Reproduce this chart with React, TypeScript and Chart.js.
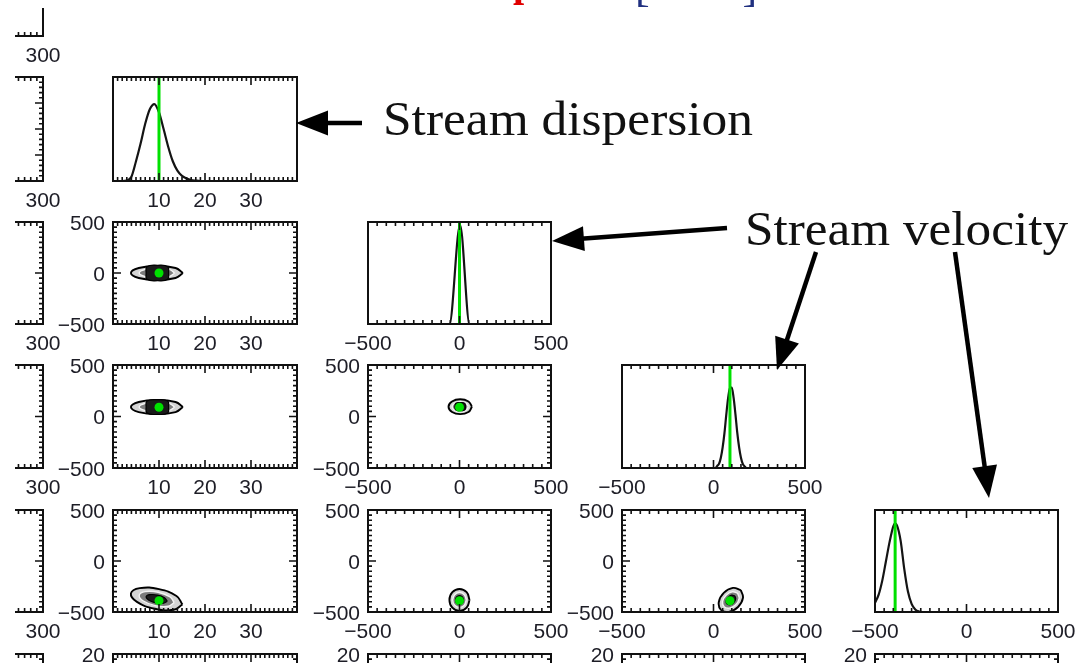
import React, { useEffect, useRef } from "react";
import { Chart, registerables } from "chart.js";

Chart.register(...registerables);

// ---------------- tick labels ----------------
const param0Ticks = [100, 200, 300];
const dispersionTicks = [10, 20, 30];
const velocityTicks = [-500, 0, 500];
const param5Ticks = [0, 10, 20];

// ---------------- true values (green markers) ----------------
const trueDispersion = 10;
const trueV1 = 0;
const trueV2 = 90;
const trueV3 = -390;

// ---------------- 1-D marginal distributions ----------------
const dispersionX = [0, 1, 2, 3, 4, 5, 6, 7, 8, 9, 10, 11, 12, 13, 14, 15, 16, 17, 18, 19, 20, 40];
const dispersionY = [0, 0, 0, 0.005, 0.04, 0.19, 0.36, 0.55, 0.69, 0.74, 0.66, 0.5, 0.33, 0.19, 0.1, 0.05, 0.025, 0.01, 0.004, 0, 0, 0];

const v1X = [-500, -55, 3, 55, 500];
const v1Y = [0, 0, 0.97, 0, 0];

const v2X = [-500, 10, 20, 30, 40, 50, 60, 70, 80, 90, 100, 110, 120, 130, 140, 150, 160, 170, 180, 500];
const v2Y = [0, 0, 0.02, 0.04, 0.1, 0.2, 0.34, 0.52, 0.68, 0.78, 0.78, 0.68, 0.52, 0.34, 0.2, 0.1, 0.04, 0.015, 0, 0];

const v3X = [-500, -480, -460, -440, -420, -400, -390, -380, -360, -340, -320, -300, -280, -260, -240, 500];
const v3Y = [0.09, 0.17, 0.31, 0.5, 0.69, 0.84, 0.87, 0.85, 0.7, 0.42, 0.2, 0.08, 0.025, 0.005, 0, 0];

// ---------------- 2-D contours (outer, middle, core) ----------------
type P = [number, number];
const dispV1Outer: P[] = [[15.2, 0], [13.6, 49], [9.6, 69], [5.6, 49], [3.9, 0], [5.6, -49], [9.6, -69], [13.6, -49]];
const dispV1Mid: P[] = [[13.4, 0], [12.3, 33], [9.6, 47], [6.9, 33], [5.7, 0], [6.9, -33], [9.6, -47], [12.3, -33]];
const dispV1Core: P[] = [[12.1, 0], [11.9, 62], [9.7, 76], [7.4, 62], [7.2, 0], [7.4, -62], [9.7, -76], [11.9, -62]];

const dispV2Outer: P[] = [[15.2, 92], [13.6, 141], [9.6, 161], [5.6, 141], [3.9, 92], [5.6, 43], [9.6, 23], [13.6, 43]];
const dispV2Mid: P[] = [[13.4, 92], [12.3, 125], [9.6, 139], [6.9, 125], [5.7, 92], [6.9, 59], [9.6, 45], [12.3, 59]];
const dispV2Core: P[] = [[12.1, 92], [11.9, 150], [9.7, 164], [7.4, 150], [7.2, 92], [7.4, 34], [9.7, 20], [11.9, 34]];

const dispV3Outer: P[] = [[15.1, -426], [13.8, -343], [10.0, -276], [5.8, -266], [3.9, -318], [5.2, -401], [9.1, -468], [13.2, -478]];
const dispV3Mid: P[] = [[13.3, -408], [12.4, -352], [9.8, -306], [7.0, -300], [5.7, -336], [6.6, -392], [9.2, -438], [12.0, -444]];
const dispV3Core: P[] = [[11.8, -394], [11.2, -360], [9.7, -334], [8.0, -330], [7.2, -350], [7.8, -384], [9.3, -410], [11.0, -414]];

const v1V2Outer: P[] = [[68, 95], [49, 146], [4, 167], [-41, 146], [-60, 95], [-41, 44], [4, 23], [49, 44]];
const v1V2Mid: P[] = [[48, 95], [35, 130], [4, 144], [-27, 130], [-40, 95], [-27, 60], [4, 46], [35, 60]];
const v1V2Core: P[] = [[33, 95], [28, 128], [4, 134], [-20, 128], [-25, 95], [-20, 62], [4, 56], [28, 62]];

const v1V3Outer: P[] = [[55, -382], [39, -306], [0, -274], [-39, -306], [-55, -382], [-39, -458], [0, -490], [39, -458]];
const v1V3Mid: P[] = [[37, -382], [26, -330], [0, -309], [-26, -330], [-37, -382], [-26, -434], [0, -455], [26, -434]];
const v1V3Core: P[] = [[22, -382], [16, -352], [0, -339], [-16, -352], [-22, -382], [-16, -412], [0, -425], [16, -412]];

const v2V3Outer: P[] = [[149, -285], [106, -264], [56, -313], [29, -402], [41, -479], [84, -500], [134, -451], [161, -362]];
const v2V3Mid: P[] = [[132, -316], [103, -302], [69, -335], [50, -396], [58, -448], [87, -462], [121, -429], [140, -368]];
const v2V3Core: P[] = [[117, -343], [99, -335], [80, -355], [69, -390], [73, -421], [91, -429], [110, -409], [121, -374]];

// ---------------- layout ----------------
type AxisSpec = { min: number; max: number; minor: number; major: number[]; labels: number[] };
const AX_P0: AxisSpec = { min: 0, max: 300, minor: 10, major: [100, 200], labels: param0Ticks };
const AX_DISP: AxisSpec = { min: 0, max: 40, minor: 1, major: [10, 20, 30], labels: dispersionTicks };
const AX_DISP_Y: AxisSpec = { min: 0, max: 40, minor: 2, major: [10, 20, 30], labels: dispersionTicks };
const AX_VEL: AxisSpec = { min: -500, max: 500, minor: 50, major: [0], labels: velocityTicks };
const AX_P5: AxisSpec = { min: 0, max: 20, minor: 1, major: [10], labels: param5Ticks };
const AX_HIST: AxisSpec = { min: 0, max: 1, minor: 1, major: [], labels: [] };

const colAxes = [AX_P0, AX_DISP, AX_VEL, AX_VEL, AX_VEL];
const rowAxes = [AX_HIST, AX_DISP_Y, AX_VEL, AX_VEL, AX_VEL, AX_P5];
const COLS: [number, number][] = [[-141, 43], [113, 297], [368, 551], [622, 805], [875, 1058]];
const ROWS: [number, number][] = [[-68, 36], [77, 181], [222, 324], [365, 468], [510, 612], [654, 757]];
const M = 70;
const GREEN = "#00e000";
const truths: (number | null)[] = [null, trueDispersion, trueV1, trueV2, trueV3];

const marginals: Record<number, [number[], number[]]> = {
  1: [dispersionX, dispersionY],
  2: [v1X, v1Y],
  3: [v2X, v2Y],
  4: [v3X, v3Y],
};
const contours: Record<string, P[][]> = {
  "21": [dispV1Outer, dispV1Mid, dispV1Core],
  "31": [dispV2Outer, dispV2Mid, dispV2Core],
  "41": [dispV3Outer, dispV3Mid, dispV3Core],
  "32": [v1V2Outer, v1V2Mid, v1V2Core],
  "42": [v1V3Outer, v1V3Mid, v1V3Core],
  "43": [v2V3Outer, v2V3Mid, v2V3Core],
};

const levelStyles = [
  { bg: "#d4d4d4", bc: "#000000", bw: 1.9 },
  { bg: "#7c7c7c", bc: "#f4f4f4", bw: 1.4 },
  { bg: "#1a1a1a", bc: "#000000", bw: 1.2 },
];

function loop(pts: P[]) {
  const a = pts.map(([x, y]) => ({ x, y }));
  a.push(a[0]);
  return a;
}

interface PanelSpec {
  key: string;
  hist: boolean;
  xa: AxisSpec;
  ya: AxisSpec;
  l: number;
  t: number;
  r: number;
  b: number;
  datasets: any[];
  clipL: number;
  clipT: number;
}

function buildPanels(): PanelSpec[] {
  const out: PanelSpec[] = [];
  for (let r = 0; r < ROWS.length; r++) {
    for (let c = 0; c <= Math.min(r, 4); c++) {
      const hist = r === c;
      const datasets: any[] = [];
      if (hist) {
        const m = marginals[c];
        if (m) {
          datasets.push({
            data: m[0].map((x, i) => ({ x, y: m[1][i] })),
            borderColor: "#141414",
            borderWidth: 2.2,
            pointRadius: 0,
            fill: false,
            cubicInterpolationMode: "monotone",
            order: 2,
          });
        }
        const t = truths[c];
        if (t !== null && t !== undefined) {
          datasets.push({
            data: [{ x: t, y: 0 }, { x: t, y: 1 }],
            borderColor: GREEN,
            borderWidth: 3,
            pointRadius: 0,
            fill: false,
            order: 1,
          });
        }
      } else {
        const lv = contours[`${r}${c}`];
        if (lv) {
          lv.forEach((pts, i) => {
            datasets.push({
              data: loop(pts),
              fill: "shape",
              backgroundColor: levelStyles[i].bg,
              borderColor: levelStyles[i].bc,
              borderWidth: levelStyles[i].bw,
              tension: 0.45,
              pointRadius: 0,
              order: 10 - i,
            });
          });
        }
        const tx = truths[c];
        const ty = r < truths.length ? truths[r] : null;
        if (tx !== null && tx !== undefined && ty !== null && ty !== undefined) {
          datasets.push({
            data: [{ x: tx, y: ty }],
            showLine: false,
            pointRadius: 4.5,
            pointBackgroundColor: GREEN,
            pointBorderWidth: 0,
            order: 0,
          });
        }
      }
      out.push({
        key: `${r}-${c}`,
        hist,
        xa: colAxes[c],
        ya: hist ? AX_HIST : rowAxes[r],
        l: COLS[c][0],
        r: COLS[c][1],
        t: ROWS[r][0],
        b: ROWS[r][1],
        datasets,
        clipL: c === 0 ? 15 : 0,
        clipT: r === 0 ? 8 : 0,
      });
    }
  }
  return out;
}

function fmt(v: number) {
  return v < 0 ? "\u2212" + Math.abs(v) : String(v);
}

function framePlugin(p: PanelSpec) {
  return {
    id: "frame",
    afterDatasetsDraw(chart: any) {
      const { ctx, chartArea: a } = chart;
      const xs = chart.scales.x;
      const ys = chart.scales.y;
      ctx.save();
      ctx.strokeStyle = "#111111";
      ctx.lineWidth = 1.6;
      ctx.beginPath();
      const isMajor = (ax: AxisSpec, v: number) => ax.major.some((m) => Math.abs(m - v) < 1e-6);
      const nx = Math.round((p.xa.max - p.xa.min) / p.xa.minor);
      for (let i = 1; i < nx; i++) {
        const v = p.xa.min + i * p.xa.minor;
        const len = isMajor(p.xa, v) ? 8 : 4;
        const px = xs.getPixelForValue(v);
        ctx.moveTo(px, a.bottom);
        ctx.lineTo(px, a.bottom - len);
        ctx.moveTo(px, a.top);
        ctx.lineTo(px, a.top + len);
      }
      if (!p.hist) {
        const ny = Math.round((p.ya.max - p.ya.min) / p.ya.minor);
        for (let i = 1; i < ny; i++) {
          const v = p.ya.min + i * p.ya.minor;
          const len = isMajor(p.ya, v) ? 8 : 4;
          const py = ys.getPixelForValue(v);
          ctx.moveTo(a.left, py);
          ctx.lineTo(a.left + len, py);
          ctx.moveTo(a.right, py);
          ctx.lineTo(a.right - len, py);
        }
      }
      ctx.stroke();
      ctx.lineWidth = 2;
      ctx.strokeStyle = "#111111";
      ctx.strokeRect(a.left, a.top, a.right - a.left, a.bottom - a.top);

      ctx.fillStyle = "#1d1d26";
      ctx.font = '21px "Liberation Sans", Arial, sans-serif';
      ctx.textBaseline = "alphabetic";
      ctx.textAlign = "center";
      for (const v of p.xa.labels) {
        ctx.fillText(fmt(v), xs.getPixelForValue(v), a.bottom + 26);
      }
      if (!p.hist) {
        ctx.textAlign = "right";
        for (const v of p.ya.labels) {
          ctx.fillText(fmt(v), a.left - 8, ys.getPixelForValue(v) + 7.5);
        }
      }
      ctx.restore();
    },
  };
}

function Panel({ spec }: { spec: PanelSpec }) {
  const ref = useRef<HTMLCanvasElement>(null);
  const w = spec.r - spec.l + 2 * M;
  const h = spec.b - spec.t + 2 * M;
  useEffect(() => {
    if (!ref.current) return;
    const chart = new Chart(ref.current, {
      type: "line",
      data: { datasets: spec.datasets },
      options: {
        animation: false,
        responsive: false,
        maintainAspectRatio: false,
        events: [],
        devicePixelRatio: 1,
        layout: { padding: { left: M, right: M, top: M, bottom: M } },
        scales: {
          x: { type: "linear", min: spec.xa.min, max: spec.xa.max, display: false },
          y: { type: "linear", min: spec.ya.min, max: spec.ya.max, display: false },
        },
        plugins: { legend: { display: false }, tooltip: { enabled: false } },
      } as any,
      plugins: [framePlugin(spec) as any],
    });
    return () => chart.destroy();
  }, [spec]);
  return (
    <div
      style={{
        position: "absolute",
        left: spec.clipL,
        top: spec.clipT,
        width: 1088 - spec.clipL,
        height: 663 - spec.clipT,
        overflow: "hidden",
        pointerEvents: "none",
      }}
    >
      <canvas
        ref={ref}
        width={w}
        height={h}
        style={{ position: "absolute", left: spec.l - M - spec.clipL, top: spec.t - M - spec.clipT, width: w, height: h }}
      />
    </div>
  );
}

function Arrow({ x1, y1, x2, y2 }: { x1: number; y1: number; x2: number; y2: number }) {
  const dx = x2 - x1;
  const dy = y2 - y1;
  const len = Math.hypot(dx, dy);
  const ux = dx / len;
  const uy = dy / len;
  const L = 32;
  const W = 12.5;
  const bx = x2 - ux * L;
  const by = y2 - uy * L;
  const px = -uy;
  const py = ux;
  return (
    <g>
      <line x1={x1} y1={y1} x2={bx + ux * 3} y2={by + uy * 3} stroke="#000" strokeWidth={4.5} />
      <polygon points={`${x2},${y2} ${bx + px * W},${by + py * W} ${bx - px * W},${by - py * W}`} fill="#000" />
    </g>
  );
}

const PANELS = buildPanels();

export default function App() {
  return (
    <div
      style={{
        position: "absolute",
        left: 0,
        top: 0,
        width: 1088,
        height: 663,
        overflow: "hidden",
        background: "#ffffff",
      }}
    >
      {PANELS.map((p) => (
        <Panel key={p.key} spec={p} />
      ))}
      <svg
        width={1088}
        height={663}
        style={{ position: "absolute", left: 0, top: 0, pointerEvents: "none" }}
      >
        <text x={513} y={-4} fill="#e00000" fontWeight="bold" fontSize={40} fontFamily='"Liberation Serif", serif'>
          p
        </text>
        <text x={635} y={1} fill="#203080" fontSize={44} fontFamily='"Liberation Serif", serif'>
          [
        </text>
        <text x={742.5} y={1} fill="#203080" fontSize={44} fontFamily='"Liberation Serif", serif'>
          ]
        </text>
        <text
          x={383}
          y={135}
          fontSize={48}
          fill="#111"
          fontFamily='"Liberation Serif", "DejaVu Serif", serif'
          textLength={370}
          lengthAdjust="spacingAndGlyphs"
        >
          Stream dispersion
        </text>
        <text
          x={745}
          y={245}
          fontSize={48}
          fill="#111"
          fontFamily='"Liberation Serif", "DejaVu Serif", serif'
          textLength={323}
          lengthAdjust="spacingAndGlyphs"
        >
          Stream velocity
        </text>
        <Arrow x1={362} y1={123} x2={296} y2={123} />
        <Arrow x1={727} y1={228} x2={552} y2={241} />
        <Arrow x1={816} y1={252} x2={777} y2={370} />
        <Arrow x1={955} y1={252} x2={989} y2={498} />
      </svg>
    </div>
  );
}
